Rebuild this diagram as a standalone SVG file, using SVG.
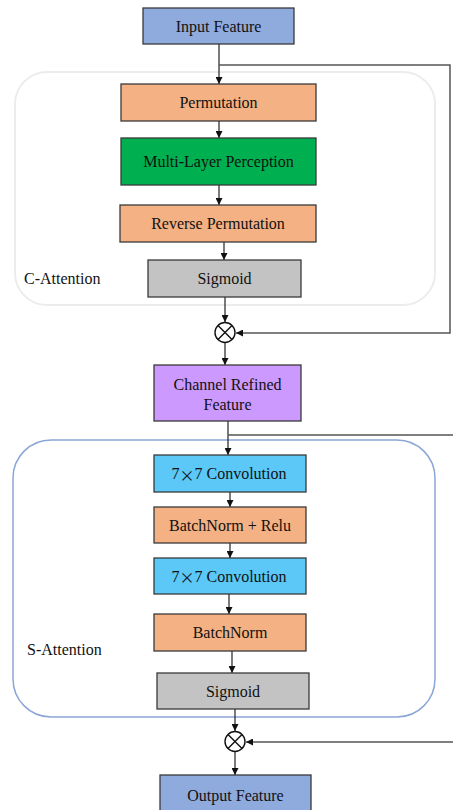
<svg xmlns="http://www.w3.org/2000/svg" width="453" height="810" viewBox="0 0 453 810">
<defs>
<style>
.box{stroke:#3a3a3a;stroke-width:1.3}
.t{font-family:"Liberation Serif","Times New Roman",serif;font-size:16px;fill:#111;text-anchor:middle;dominant-baseline:central}
.lbl{font-family:"Liberation Serif","Times New Roman",serif;font-size:16px;fill:#111}
.x{font-family:"Noto Sans CJK SC",sans-serif;font-size:15px}
.c{fill:none;stroke:#222;stroke-width:1.2}
.br{fill:none;stroke:#555;stroke-width:1.5}
</style>
<marker id="ah" viewBox="0 0 10 10" refX="10" refY="5" markerWidth="7" markerHeight="7" orient="auto-start-reverse" markerUnits="userSpaceOnUse">
<path d="M0,0 L10,5 L0,10 z" fill="#111"/>
</marker>
</defs>
<rect width="453" height="810" fill="#fff"/>
<g id="c-attention">
<rect x="15" y="72" width="420" height="233" rx="32" fill="none" stroke="#ececec" stroke-width="2"/>
<text class="lbl" x="24" y="284">C-Attention</text>
</g>
<g id="s-attention">
<rect x="13" y="440" width="422" height="277" rx="38" fill="none" stroke="#8aa6d6" stroke-width="1.5"/>
<text class="lbl" x="27" y="655">S-Attention</text>
</g>
<g id="connectors">
<line class="c" x1="219" y1="44" x2="219" y2="84" marker-end="url(#ah)"/>
<polyline class="br" points="219,65 450,65 450,333 236,333" marker-end="url(#ah)"/>
<line class="c" x1="219" y1="121" x2="219" y2="138" marker-end="url(#ah)"/>
<line class="c" x1="219" y1="185" x2="219" y2="205" marker-end="url(#ah)"/>
<line class="c" x1="224" y1="242" x2="224" y2="260" marker-end="url(#ah)"/>
<line class="c" x1="225" y1="297" x2="225" y2="322" marker-end="url(#ah)"/>
<line class="c" x1="225" y1="343" x2="225" y2="365" marker-end="url(#ah)"/>
<line class="c" x1="228" y1="421" x2="228" y2="455" marker-end="url(#ah)"/>
<polyline class="br" points="228,435 460,435 460,742 246,742" marker-end="url(#ah)"/>
<line class="c" x1="230" y1="492" x2="230" y2="507" marker-end="url(#ah)"/>
<line class="c" x1="230" y1="543" x2="230" y2="558" marker-end="url(#ah)"/>
<line class="c" x1="229" y1="594" x2="229" y2="614" marker-end="url(#ah)"/>
<line class="c" x1="232" y1="651" x2="232" y2="673" marker-end="url(#ah)"/>
<line class="c" x1="235" y1="709" x2="235" y2="731" marker-end="url(#ah)"/>
<line class="c" x1="235" y1="752" x2="235" y2="775" marker-end="url(#ah)"/>
</g>
<g id="input-feature">
<rect class="box" x="143" y="8" width="151" height="36" fill="#8faadc"/>
<text class="t" x="218.5" y="26">Input Feature</text>
</g>
<g id="permutation">
<rect class="box" x="121" y="84" width="195" height="37" fill="#f4b183"/>
<text class="t" x="218.5" y="102.5">Permutation</text>
</g>
<g id="mlp">
<rect class="box" x="121" y="138" width="195" height="47" fill="#00b050"/>
<text class="t" x="218.5" y="161.5">Multi-Layer Perception</text>
</g>
<g id="reverse-permutation">
<rect class="box" x="120" y="205" width="196" height="37" fill="#f4b183"/>
<text class="t" x="218" y="223.5">Reverse Permutation</text>
</g>
<g id="sigmoid-c">
<rect class="box" x="148" y="260" width="153" height="37" fill="#c3c3c3"/>
<text class="t" x="224.5" y="278.5">Sigmoid</text>
</g>
<g id="mult-1">
<circle cx="225" cy="332.5" r="10" fill="#fff" stroke="#111" stroke-width="1.4"/>
<path d="M218,325.5 L232,339.5 M232,325.5 L218,339.5" stroke="#111" stroke-width="1.4"/>
</g>
<g id="channel-refined-feature">
<rect class="box" x="154" y="365" width="147" height="56" fill="#cc99ff"/>
<text class="t" x="227.5" y="384">Channel Refined</text>
<text class="t" x="227.5" y="404">Feature</text>
</g>
<g id="conv-1">
<rect class="box" x="154" y="455" width="152" height="37" fill="#5bc8f8"/>
<text class="t" x="229" y="473.5">7<tspan class="x">×</tspan>7 Convolution</text>
</g>
<g id="bn-relu">
<rect class="box" x="154" y="507" width="152" height="36" fill="#f4b183"/>
<text class="t" x="230" y="525">BatchNorm + Relu</text>
</g>
<g id="conv-2">
<rect class="box" x="154" y="558" width="152" height="36" fill="#5bc8f8"/>
<text class="t" x="229" y="576">7<tspan class="x">×</tspan>7 Convolution</text>
</g>
<g id="bn">
<rect class="box" x="154" y="614" width="152" height="37" fill="#f4b183"/>
<text class="t" x="230" y="632.5">BatchNorm</text>
</g>
<g id="sigmoid-s">
<rect class="box" x="157" y="673" width="152" height="36" fill="#c3c3c3"/>
<text class="t" x="233" y="691">Sigmoid</text>
</g>
<g id="mult-2">
<circle cx="235" cy="741.5" r="10" fill="#fff" stroke="#111" stroke-width="1.4"/>
<path d="M228,734.5 L242,748.5 M242,734.5 L228,748.5" stroke="#111" stroke-width="1.4"/>
</g>
<g id="output-feature">
<rect class="box" x="160" y="775" width="151" height="40" fill="#8faadc"/>
<text class="t" x="235.5" y="795">Output Feature</text>
</g>
</svg>
